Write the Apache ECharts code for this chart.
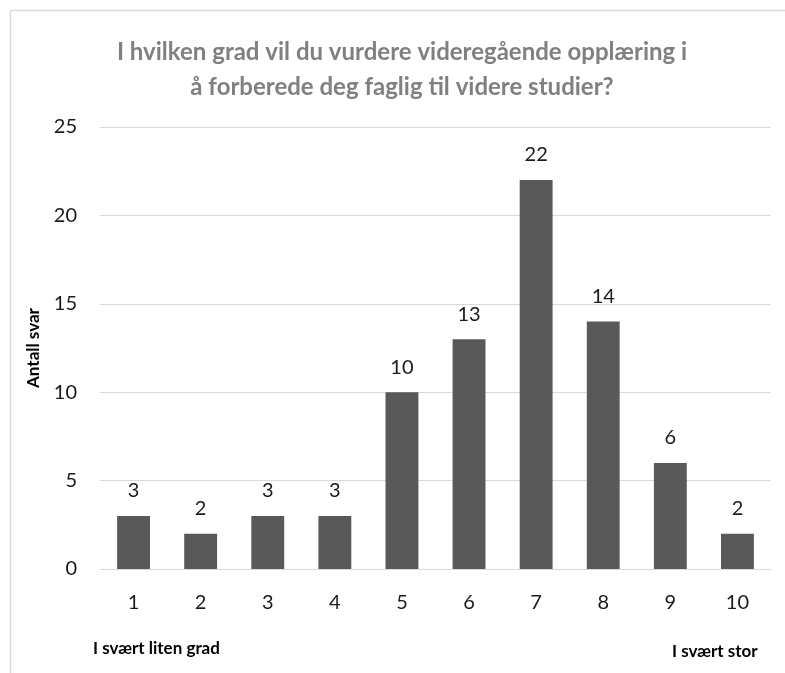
<!DOCTYPE html>
<html>
<head>
<meta charset="utf-8">
<script src="https://cdn.jsdelivr.net/npm/echarts@6/dist/echarts.min.js"></script>
<style>
  html, body { margin: 0; padding: 0; background: #fff; }
  #chartDiv { width: 785px; height: 673px; }
</style>
</head>
<body>
<div id="chartDiv"></div>
<script>
// kategorier (skala 1-10) og antall svar
var categories = ['1', '2', '3', '4', '5', '6', '7', '8', '9', '10'];
var antallSvar = [3, 2, 3, 3, 10, 13, 22, 14, 6, 2];
var yTicks = [0, 5, 10, 15, 20, 25];

var tittel = 'I hvilken grad vil du vurdere videregående opplæring i\nå forberede deg faglig til videre studier?';

var myChart = echarts.init(document.getElementById('chartDiv'));

var option = {
    backgroundColor: '#ffffff',
    animation: false,
    title: {
        text: tittel,
        left: 397,
        textAlign: 'center',
        top: 30,
        textStyle: {
            fontFamily: 'Lato',
            fontWeight: 'bold',
            fontSize: 24,
            color: '#808080',
            lineHeight: 35
        }
    },
    grid: {
        left: 100,
        right: 14,
        top: 127,
        bottom: 104,
        containLabel: false
    },
    xAxis: {
        type: 'category',
        data: categories,
        axisLine: { lineStyle: { color: '#d9d9d9', width: 1 } },
        axisTick: { show: false },
        axisLabel: {
            margin: 24,
            fontFamily: 'Lato',
            fontSize: 20,
            color: '#1a1a1a'
        }
    },
    yAxis: {
        type: 'value',
        min: yTicks[0],
        max: yTicks[yTicks.length - 1],
        interval: 5,
        name: 'Antall svar',
        nameLocation: 'middle',
        nameGap: 58,
        nameTextStyle: {
            fontFamily: 'Lato',
            fontWeight: 'bold',
            fontSize: 17,
            color: '#000'
        },
        axisLine: { show: false },
        axisTick: { show: false },
        axisLabel: {
            margin: 23,
            fontFamily: 'Lato',
            fontSize: 20,
            color: '#1a1a1a'
        },
        splitLine: { lineStyle: { color: '#d9d9d9', width: 1 } }
    },
    series: [{
        type: 'bar',
        data: antallSvar,
        barWidth: '49%',
        itemStyle: { color: '#595959' },
        label: {
            show: true,
            position: 'top',
            distance: 15,
            fontFamily: 'Lato',
            fontSize: 20,
            color: '#1a1a1a'
        }
    }],
    graphic: [
        // ramme oppe og til venstre
        { type: 'line', shape: { x1: 10, y1: 10.5, x2: 785, y2: 10.5 }, style: { stroke: '#d9d9d9', lineWidth: 1.5 } },
        { type: 'line', shape: { x1: 10.5, y1: 10, x2: 10.5, y2: 673 }, style: { stroke: '#d9d9d9', lineWidth: 1.5 } },
        {
            type: 'text', left: 93, top: 640,
            style: { text: 'I svært liten grad', font: 'bold 17px Lato', fill: '#000' }
        },
        {
            type: 'text', left: 672, top: 643,
            style: { text: 'I svært stor', font: 'bold 17px Lato', fill: '#000' }
        }
    ]
};

myChart.setOption(option);
</script>
</body>
</html>
